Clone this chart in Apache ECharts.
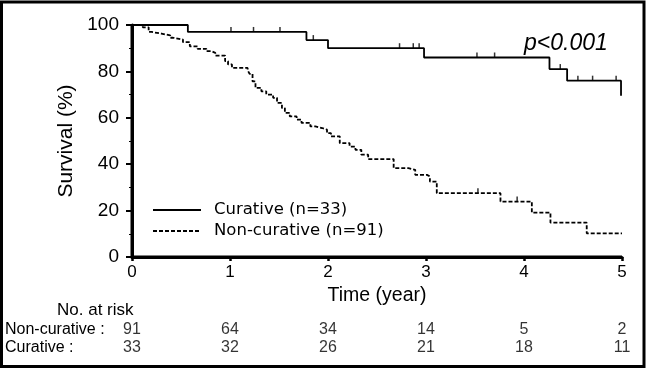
<!DOCTYPE html>
<html>
<head>
<meta charset="utf-8">
<script src="https://cdn.jsdelivr.net/npm/echarts@6/dist/echarts.min.js"></script>
<style>
	html, body { margin: 0; padding: 0; background: #fff; }
	#main { width: 646px; height: 370px; }
</style>
</head>
<body>
<div id="main"></div>
<script>
	// Curative (n=33): event times (year) and survival after each step (%)
	var curTimes = [0, 0.57, 1.78, 2.0, 2.98, 4.26, 4.44, 4.99];
	var curSurv = [100, 97, 93.5, 90, 86, 81, 76, 69.5];
	var curCensorTimes = [1.01, 1.24, 1.51, 1.85, 2.73, 2.87, 2.93, 3.52, 3.70, 4.37, 4.55, 4.70, 4.94];
	var curCensorSurv = [97, 97, 97, 93.5, 90, 90, 90, 86, 86, 81, 76, 76, 76];

	// Non-curative (n=91)
	var nonTimes = [0, 0.11, 0.17, 0.20, 0.30, 0.39, 0.42, 0.52, 0.59, 0.67, 0.76, 0.81, 0.85, 0.95, 0.98, 1.02,
		1.18, 1.20, 1.23, 1.26, 1.32, 1.37, 1.44, 1.48, 1.53, 1.56, 1.61, 1.68, 1.73, 1.82, 1.87, 1.94, 1.99,
		2.03, 2.12, 2.22, 2.28, 2.34, 2.41, 2.67, 2.82, 2.89, 3.01, 3.04, 3.11, 3.76, 4.08, 4.27, 4.64, 5.0];
	var nonSurv = [100, 99, 97, 96.3, 95.5, 94.5, 93.7, 92.6, 90.8, 89.7, 88.7, 88, 86.8, 84.4, 83, 81.5,
		80.5, 78.9, 75.7, 72.9, 71.4, 70, 68.6, 66.4, 64.2, 62.1, 60.6, 59.2, 57.8, 56.3, 55.6, 54.9, 53.4,
		52, 49.1, 47.6, 46.2, 44.1, 42.2, 38.3, 37.6, 35.4, 34.7, 32.5, 27.5, 23.9, 19.1, 14.8, 10.2, 10.2];
	var nonCensorTimes = [3.53, 3.93];
	var nonCensorSurv = [27.5, 23.9];

	// number at risk table
	var riskTimes = [0, 1, 2, 3, 4, 5];
	var riskRows = ['Non-curative :', 'Curative :'];
	var riskNon = [91, 64, 34, 14, 5, 2];
	var riskCur = [33, 32, 26, 21, 18, 11];

	var xMax = 5, yMax = 100;

	var myChart = echarts.init(document.getElementById('main'));
	var font = 'Liberation Sans, Arial, sans-serif';

	function zip(a, b) {
		return a.map(function(v, i) { return [v, b[i]]; });
	}

	var riskData = [];
	riskTimes.forEach(function(t, i) {
		riskData.push([t, 0, riskNon[i]]);
		riskData.push([t, 1, riskCur[i]]);
	});

	// left and bottom frame of the plot, from the axis extents
	var frameData = [[0, 0, 0, yMax], [0, 0, xMax, 0]];

	var option = {
		animation: false,
		graphic: [{
			type: 'rect',
			z: 100,
			shape: { x: 1.5, y: 2, width: 642.5, height: 364.5 },
			style: { fill: 'rgba(0,0,0,0)', stroke: '#000', lineWidth: 3 },
			silent: true
		}],
		title: [{
			text: 'p<0.001',
			left: 519,
			top: 27,
			textStyle: { fontFamily: font, fontStyle: 'italic', fontWeight: 'normal', fontSize: 23, color: '#000' }
		}, {
			text: 'No. at risk',
			left: 52,
			top: 297,
			textStyle: { fontFamily: font, fontWeight: 'normal', fontSize: 17, color: '#000' }
		}],
		legend: {
			data: ['Curative (n=33)', 'Non-curative (n=91)'],
			orient: 'vertical',
			left: 152,
			top: 201.5,
			padding: 0,
			itemWidth: 48,
			itemHeight: 14,
			itemGap: 4,
			itemStyle: { color: 'rgba(0,0,0,0)', borderWidth: 0 },
			textStyle: { fontFamily: 'DejaVu Sans', fontSize: 16.5, color: '#000', padding: [0, 0, 0, 8] }
		},
		grid: [
			{ left: 132, top: 25, width: 490, height: 232 },
			{ left: 132, top: 321, width: 490, height: 36 }
		],
		xAxis: [{
			type: 'value',
			gridIndex: 0,
			min: 0,
			max: xMax,
			interval: 1,
			name: 'Time (year)',
			nameLocation: 'middle',
			nameGap: 20,
			nameTextStyle: { fontFamily: font, fontSize: 19.5, color: '#000', verticalAlign: 'top' },
			axisLine: { show: true, onZero: false, lineStyle: { color: '#000', width: 3 } },
			axisTick: { show: true, length: 4, lineStyle: { color: '#000', width: 2.5 } },
			axisLabel: { fontFamily: font, fontSize: 17, color: '#000', margin: 7 },
			splitLine: { show: false }
		}, {
			type: 'value',
			gridIndex: 1,
			min: 0,
			max: xMax,
			show: false
		}],
		yAxis: [{
			type: 'value',
			gridIndex: 0,
			min: 0,
			max: yMax,
			interval: 20,
			name: 'Survival (%)',
			nameLocation: 'middle',
			nameGap: 50,
			nameTextStyle: { fontFamily: font, fontSize: 21, color: '#000' },
			axisLine: { show: true, onZero: false, lineStyle: { color: '#000', width: 3 } },
			axisTick: { show: true, length: 6, lineStyle: { color: '#000', width: 2 } },
			minorTick: { show: true, splitNumber: 2, length: 3 },
			axisLabel: { fontFamily: font, fontSize: 19, color: '#000', margin: 13 },
			splitLine: { show: false }
		}, {
			type: 'category',
			gridIndex: 1,
			data: riskRows,
			inverse: true,
			axisLine: { show: false },
			axisTick: { show: false },
			axisLabel: { interval: 0, fontFamily: font, fontSize: 16, color: '#000', align: 'left', margin: 127 }
		}],
		series: [{
			name: 'Curative (n=33)',
			type: 'line',
			step: 'end',
			symbol: 'none',
			data: zip(curTimes, curSurv),
			itemStyle: { color: '#000' },
			lineStyle: { color: '#000', width: 1.8 }
		}, {
			name: 'Non-curative (n=91)',
			type: 'line',
			step: 'end',
			symbol: 'none',
			data: zip(nonTimes, nonSurv),
			itemStyle: { color: '#000' },
			lineStyle: { color: '#000', width: 1.8, type: [4, 2] }
		}, {
			type: 'scatter',
			symbol: 'rect',
			symbolSize: [1.5, 5],
			symbolOffset: [0, -2.5],
			itemStyle: { color: '#000' },
			data: zip(curCensorTimes, curCensorSurv)
		}, {
			type: 'scatter',
			symbol: 'rect',
			symbolSize: [1.5, 5],
			symbolOffset: [0, -2.5],
			itemStyle: { color: '#000' },
			data: zip(nonCensorTimes, nonCensorSurv)
		}, {
			type: 'custom',
			z: 10,
			silent: true,
			encode: { x: [0, 2], y: [1, 3] },
			renderItem: function(params, api) {
				var p1 = api.coord([api.value(0), api.value(1)]);
				var p2 = api.coord([api.value(2), api.value(3)]);
				return {
					type: 'line',
					shape: { x1: p1[0], y1: p1[1], x2: p2[0], y2: p2[1] },
					style: { stroke: '#000', lineWidth: 3 }
				};
			},
			data: frameData
		}, {
			type: 'scatter',
			xAxisIndex: 1,
			yAxisIndex: 1,
			symbolSize: 1,
			itemStyle: { color: 'rgba(0,0,0,0)' },
			label: {
				show: true,
				position: 'inside',
				fontFamily: font,
				fontSize: 16,
				color: '#000',
				formatter: function(p) { return p.value[2]; }
			},
			data: riskData
		}]
	};
	myChart.setOption(option);
</script>
</body>
</html>
